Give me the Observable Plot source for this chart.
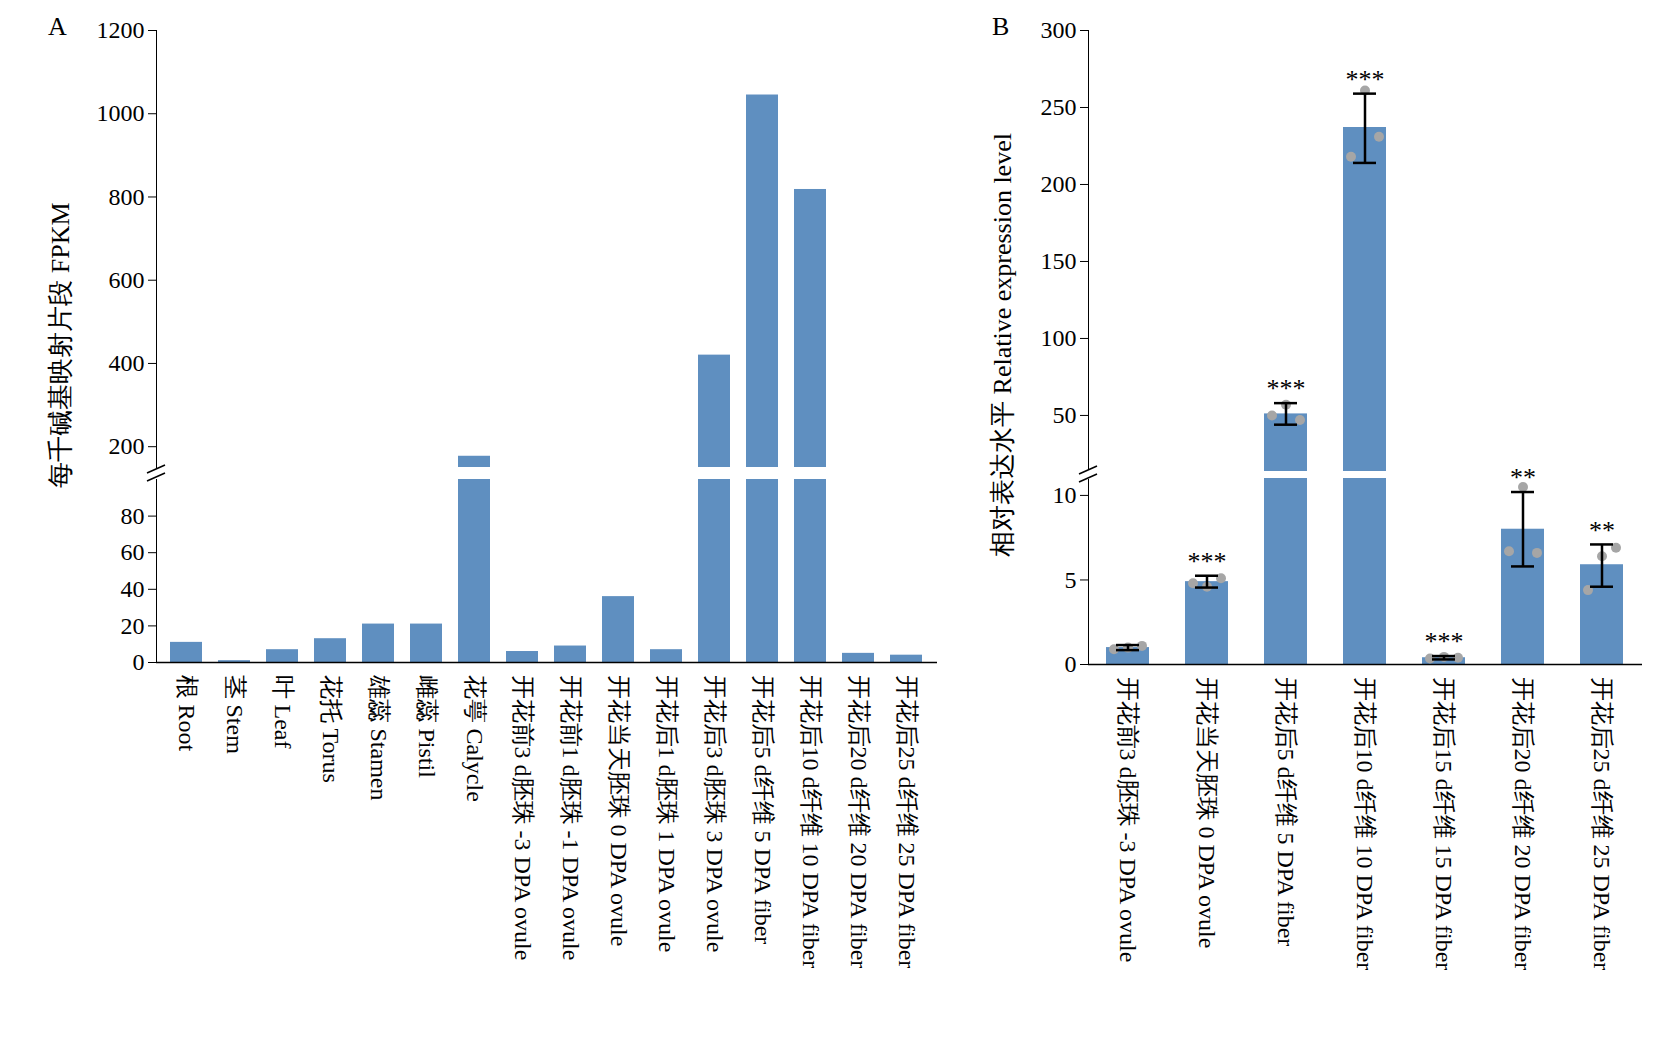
<!DOCTYPE html>
<html><head><meta charset="utf-8">
<script src="https://cdn.jsdelivr.net/npm/d3@7"></script>
<script src="https://cdn.jsdelivr.net/npm/@observablehq/plot@0.6"></script>
<style>
body{margin:0;background:#fff;font-family:"Liberation Serif",serif;}
#wrap{position:relative;width:1680px;height:1059px;}
#wrap > svg, #wrap > div{position:absolute;left:0;top:0;}
.lab{position:absolute;font-size:26px;color:#000;}
</style></head><body>
<div id="wrap"></div>
<script>
const catsA=["根 Root","茎 Stem","叶 Leaf","花托 Torus","雄蕊 Stamen","雌蕊 Pistil","花萼 Calycle","开花前3 d胚珠 -3 DPA ovule","开花前1 d胚珠 -1 DPA ovule","开花当天胚珠 0 DPA ovule","开花后1 d胚珠 1 DPA ovule","开花后3 d胚珠 3 DPA ovule","开花后5 d纤维 5 DPA fiber","开花后10 d纤维 10 DPA fiber","开花后20 d纤维 20 DPA fiber","开花后25 d纤维 25 DPA fiber"];
const valsA=[11,1,7,13,21,21,177,6,9,36,7,420,1045,818,5,4];
const catsB=["开花前3 d胚珠 -3 DPA ovule","开花当天胚珠 0 DPA ovule","开花后5 d纤维 5 DPA fiber","开花后10 d纤维 10 DPA fiber","开花后15 d纤维 15 DPA fiber","开花后20 d纤维 20 DPA fiber","开花后25 d纤维 25 DPA fiber"];
const valsB=[1.0,4.9,51,237,0.4,8.0,5.9];
const loB=[0.85,4.55,44,214,0.3,5.8,4.6];
const hiB=[1.15,5.25,58,259,0.5,10.2,7.1];
const repsB=[[0.9,1.0,1.1],[4.8,4.6,5.1],[50,57,47],[218,261,231],[0.35,0.45,0.4],[6.7,10.5,6.6],[4.4,6.4,6.9]];
const starsB=["","***","***","***","***","**","**"];
const ticksAlo=[0,20,40,60,80], ticksAhi=[200,400,600,800,1000,1200];
const ticksBlo=[0,5,10], ticksBhi=[50,100,150,200,250,300];

const COL="#5f8fc0", FONT="Liberation Serif, serif";
const H=1059;
const A=catsA.map((c,i)=>({c,v:valsA[i]}));
const B=catsB.map((c,i)=>({c,v:valsB[i],lo:loB[i],hi:hiB[i],s:starsB[i]}));
const dotsB=[];repsB.forEach((r,i)=>r.forEach((v,j)=>dotsB.push({c:catsB[i],v,j})));
const wrap=document.getElementById("wrap");
const base={width:1680,height:H,style:{background:"transparent",fontFamily:FONT,fontSize:"24px",overflow:"visible"}};
function add(p){wrap.appendChild(p);}
const xA={domain:catsA,paddingInner:0.33,paddingOuter:0.17};
const xB={domain:catsB,paddingInner:0.45,paddingOuter:0.225};
const yAx=(ticks)=>Plot.axisY({ticks,tickSize:8,tickPadding:4,label:null,fontSize:24,tickFormat:d=>String(d)});
const dotMarks=(data)=>[-1,0,1].map(k=>Plot.dot(data.filter(d=>d.j-1===k),{x:"c",y:"v",r:5,fill:"#a6a6a6",dx:k*14}));
const errMarks=(data)=>[
  Plot.ruleX(data,{x:"c",y1:"lo",y2:"hi",strokeWidth:2.5}),
  Plot.tickY(data,{x:"c",y:"lo",strokeWidth:2.5,insetLeft:10,insetRight:10}),
  Plot.tickY(data,{x:"c",y:"hi",strokeWidth:2.5,insetLeft:10,insetRight:10}),
  Plot.text(data,{x:"c",y:"hi",text:"s",dy:-14,fontSize:26})];
// A lower
add(Plot.plot({...base,marginLeft:156,marginRight:1680-937,marginTop:479,marginBottom:H-662,
 x:{...xA,axis:"bottom",tickRotate:90,tickSize:0,tickPadding:12,label:null},
 y:{domain:[0,100],axis:null},
 marks:[yAx(ticksAlo),Plot.frame({anchor:"left"}),
  Plot.barY(A,{x:"c",y1:0,y2:d=>Math.min(d.v,100),fill:COL}),
  Plot.ruleY([0],{strokeWidth:1.5})]}));
// A upper
add(Plot.plot({...base,marginLeft:156,marginRight:1680-937,marginTop:30,marginBottom:H-467,
 x:{...xA,axis:null},y:{domain:[150,1200],axis:null},
 marks:[yAx(ticksAhi),Plot.frame({anchor:"left"}),
  Plot.barY(A.filter(d=>d.v>150),{x:"c",y1:150,y2:"v",fill:COL})]}));
const Blo=B.filter(d=>d.v<=11), Bhi=B.filter(d=>d.v>11);
// B lower
add(Plot.plot({...base,marginLeft:1088,marginRight:1680-1642,marginTop:478,marginBottom:H-664,
 x:{...xB,axis:"bottom",tickRotate:90,tickSize:0,tickPadding:12,label:null},
 y:{domain:[0,11],axis:null},
 marks:[yAx(ticksBlo),Plot.frame({anchor:"left"}),
  Plot.barY(B,{x:"c",y1:0,y2:d=>Math.min(d.v,11),fill:COL}),
  Plot.ruleY([0],{strokeWidth:1.5}),
  ...dotMarks(dotsB.filter(d=>d.v<=11)),
  ...errMarks(Blo)]}));
// B upper
add(Plot.plot({...base,marginLeft:1088,marginRight:1680-1642,marginTop:30,marginBottom:H-471,
 x:{...xB,axis:null},y:{domain:[13.6,300],axis:null},
 marks:[yAx(ticksBhi),Plot.frame({anchor:"left"}),
  Plot.barY(Bhi,{x:"c",y1:13.6,y2:"v",fill:COL}),
  ...dotMarks(dotsB.filter(d=>d.v>11)),
  ...errMarks(Bhi)]}));
// axis break marks
const ns="http://www.w3.org/2000/svg";
const svg=document.createElementNS(ns,"svg");svg.setAttribute("width",1680);svg.setAttribute("height",H);
svg.style.position="absolute";svg.style.left="0";svg.style.top="0";
[[156,473],[1088,474]].forEach(([x,y])=>{
 const r=document.createElementNS(ns,"rect");r.setAttribute("x",x-10);r.setAttribute("y",y-5);r.setAttribute("width",20);r.setAttribute("height",10);r.setAttribute("fill","#fff");svg.appendChild(r);
 [-4,4].forEach(o=>{const l=document.createElementNS(ns,"line");l.setAttribute("x1",x-9);l.setAttribute("x2",x+9);l.setAttribute("y1",y+o+4);l.setAttribute("y2",y+o-4);l.setAttribute("stroke","#000");l.setAttribute("stroke-width",1.5);svg.appendChild(l);});
});
wrap.appendChild(svg);
function lab(t,x,y,rot){const d=document.createElement("div");d.className="lab";d.textContent=t;d.style.left=x+"px";d.style.top=y+"px";d.style.fontFamily=FONT;if(rot){d.style.transform="translate(-50%,-50%) rotate(-90deg)";d.style.whiteSpace="nowrap";}wrap.appendChild(d);}
lab("A",48,12);lab("B",992,12);
lab("每千碱基映射片段 FPKM",60,345,true);
lab("相对表达水平 Relative expression level",1002,345,true);
</script></body></html>
